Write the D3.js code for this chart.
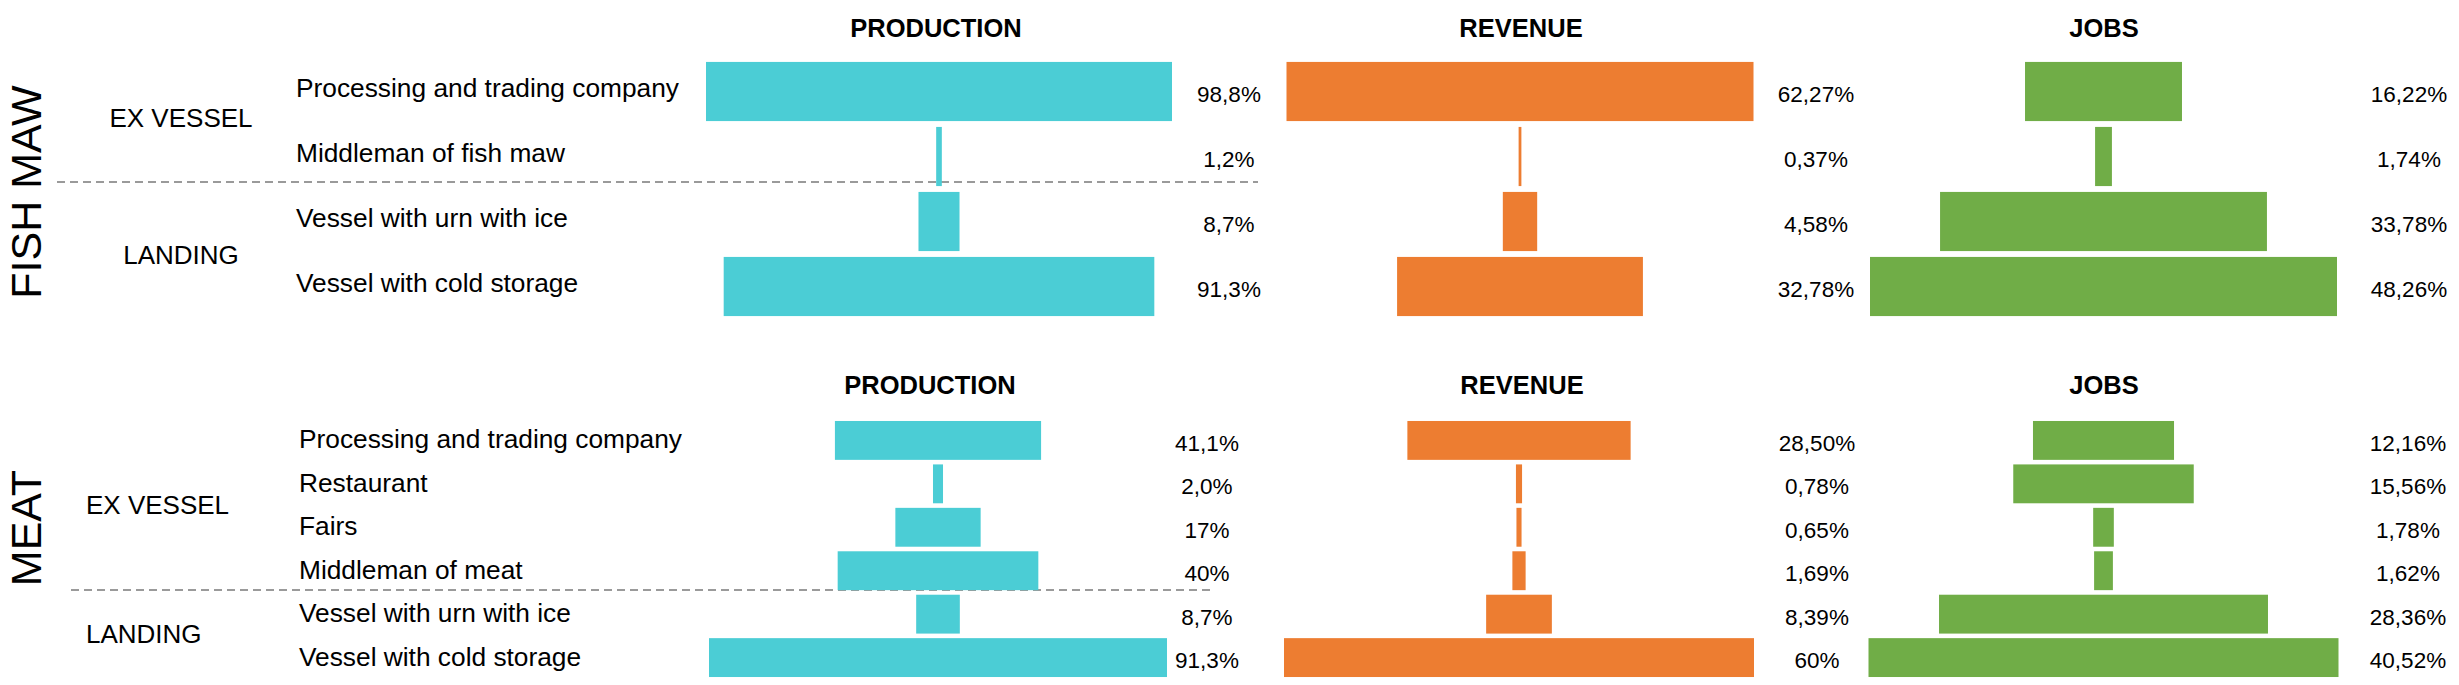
<!DOCTYPE html>
<html>
<head>
<meta charset="utf-8">
<script src="https://cdn.jsdelivr.net/npm/d3@7"></script>
<style>
  html, body { margin: 0; padding: 0; background: #ffffff; }
  svg text { font-family: "Liberation Sans", Arial, Helvetica, sans-serif; fill: #000; }
</style>
</head>
<body>
<svg id="chart" width="2459" height="685"></svg>
<script>
// ---------------- DATA ----------------
const metrics = ["PRODUCTION", "REVENUE", "JOBS"];

const fishCategories = ["Processing and trading company", "Middleman of fish maw", "Vessel with urn with ice", "Vessel with cold storage"];
const fishGroups = ["EX VESSEL", "EX VESSEL", "LANDING", "LANDING"];
const fishProduction = [98.8, 1.2, 8.7, 91.3];
const fishRevenue = [62.27, 0.37, 4.58, 32.78];
const fishJobs = [16.22, 1.74, 33.78, 48.26];
const fishProductionLabels = ["98,8%", "1,2%", "8,7%", "91,3%"];
const fishRevenueLabels = ["62,27%", "0,37%", "4,58%", "32,78%"];
const fishJobsLabels = ["16,22%", "1,74%", "33,78%", "48,26%"];

const meatCategories = ["Processing and trading company", "Restaurant", "Fairs", "Middleman of meat", "Vessel with urn with ice", "Vessel with cold storage"];
const meatGroups = ["EX VESSEL", "EX VESSEL", "EX VESSEL", "EX VESSEL", "LANDING", "LANDING"];
const meatProduction = [41.1, 2.0, 17, 40, 8.7, 91.3];
const meatRevenue = [28.50, 0.78, 0.65, 1.69, 8.39, 60];
const meatJobs = [12.16, 15.56, 1.78, 1.62, 28.36, 40.52];
const meatProductionLabels = ["41,1%", "2,0%", "17%", "40%", "8,7%", "91,3%"];
const meatRevenueLabels = ["28,50%", "0,78%", "0,65%", "1,69%", "8,39%", "60%"];
const meatJobsLabels = ["12,16%", "15,56%", "1,78%", "1,62%", "28,36%", "40,52%"];

const colors = ["#4BCDD5", "#ED7D31", "#70AD47"];

// ---------------- LAYOUT ----------------
const sections = [
  {
    name: "FISH MAW", cats: fishCategories, groups: fishGroups,
    values: [fishProduction, fishRevenue, fishJobs],
    labels: [fishProductionLabels, fishRevenueLabels, fishJobsLabels],
    yRange: [59, 319], pad: 0.09,
    titleY: 28, titleX: [936, 1521, 2104],
    nameY: 192,
    centers: [939, 1520, 2103.5],
    widths: [466, 467, 467],
    labelX: [1229, 1816, 2409],
    catX: 296, catDy: -4,
    groupAnchor: "middle", groupX: 181, groupDy: { "EX VESSEL": -6, "LANDING": 1 },
    dashY: 182, dashX: [57, 1258]
  },
  {
    name: "MEAT", cats: meatCategories, groups: meatGroups,
    values: [meatProduction, meatRevenue, meatJobs],
    labels: [meatProductionLabels, meatRevenueLabels, meatJobsLabels],
    yRange: [418.7, 679.3], pad: 0.105,
    titleY: 385, titleX: [930, 1522, 2104],
    nameY: 528,
    centers: [938, 1519, 2103.5],
    widths: [458, 470, 470],
    labelX: [1207, 1817, 2408],
    catX: 299, catDy: -1,
    groupAnchor: "start", groupX: 86, groupDy: { "EX VESSEL": -1, "LANDING": -2 },
    dashY: 590, dashX: [71, 1215]
  }
];

const svg = d3.select("#chart");

sections.forEach(sec => {
  const g = svg.append("g");
  const y = d3.scaleBand()
    .domain(sec.cats)
    .range(sec.yRange)
    .paddingInner(sec.pad)
    .paddingOuter(sec.pad / 2);
  const bw = y.bandwidth();

  // dashed separator
  g.append("line")
    .attr("x1", sec.dashX[0]).attr("x2", sec.dashX[1])
    .attr("y1", sec.dashY).attr("y2", sec.dashY)
    .attr("stroke", "#9a9a9a").attr("stroke-width", 2)
    .attr("stroke-dasharray", "8,5");

  // vertical section name
  g.append("text")
    .attr("transform", `translate(${40.5},${sec.nameY}) rotate(-90)`)
    .attr("text-anchor", "middle")
    .style("font-size", "43px")
    .text(sec.name);

  // group labels
  const groupNames = Array.from(new Set(sec.groups));
  groupNames.forEach(gn => {
    const rows = sec.cats.filter((c, i) => sec.groups[i] === gn);
    const top = y(rows[0]);
    const bottom = y(rows[rows.length - 1]) + bw;
    g.append("text")
      .attr("x", sec.groupX)
      .attr("y", (top + bottom) / 2 + sec.groupDy[gn])
      .attr("text-anchor", sec.groupAnchor)
      .attr("dominant-baseline", "central")
      .style("font-size", "26px")
      .text(gn);
  });

  // category labels
  g.selectAll("text.cat")
    .data(sec.cats)
    .join("text")
    .attr("class", "cat")
    .attr("x", sec.catX)
    .attr("y", d => y(d) + bw / 2 + sec.catDy)
    .attr("dominant-baseline", "central")
    .style("font-size", "26.3px")
    .text(d => d);

  // panels
  metrics.forEach((m, k) => {
    const vals = sec.values[k];
    const x = d3.scaleLinear()
      .domain([0, d3.max(vals)])
      .range([0, sec.widths[k]]);
    const cx = sec.centers[k];

    g.append("text")
      .attr("x", sec.titleX[k])
      .attr("y", sec.titleY)
      .attr("text-anchor", "middle")
      .attr("dominant-baseline", "central")
      .style("font-size", "25.5px")
      .style("font-weight", "bold")
      .text(m);

    g.selectAll(`rect.m${k}`)
      .data(vals)
      .join("rect")
      .attr("class", `m${k}`)
      .attr("x", d => cx - x(d) / 2)
      .attr("y", (d, i) => y(sec.cats[i]))
      .attr("width", d => x(d))
      .attr("height", bw)
      .attr("fill", colors[k]);

    g.selectAll(`text.v${k}`)
      .data(sec.labels[k])
      .join("text")
      .attr("class", `v${k}`)
      .attr("x", sec.labelX[k])
      .attr("y", (d, i) => y(sec.cats[i]) + bw / 2 + 3)
      .attr("text-anchor", "middle")
      .attr("dominant-baseline", "central")
      .style("font-size", "22.5px")
      .text(d => d);
  });
});
</script>
</body>
</html>
